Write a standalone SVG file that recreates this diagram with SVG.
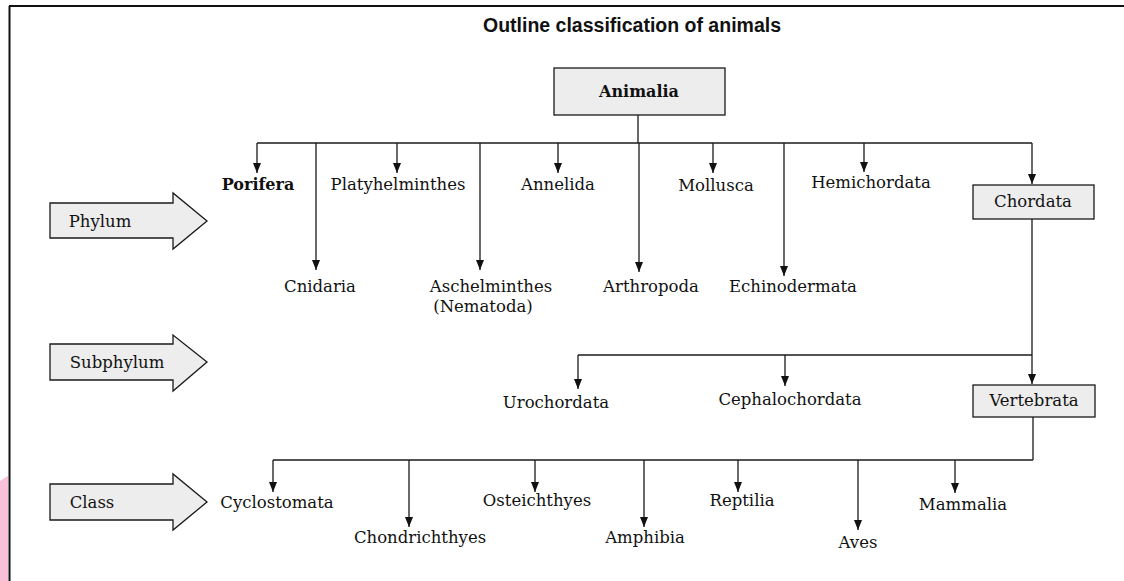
<svg xmlns="http://www.w3.org/2000/svg" width="1124" height="581" viewBox="0 0 1124 581">
<style>
.t{font-family:"DejaVu Serif","Liberation Serif",serif;font-size:16.5px;fill:#111;text-anchor:middle}
.b{font-weight:bold;font-size:16px}
.title{font-family:"Liberation Sans","DejaVu Sans",sans-serif;font-size:19.5px;font-weight:bold;fill:#111;text-anchor:middle}
.c line{stroke:#1a1a1a;stroke-width:1.3;fill:none}
.a{marker-end:url(#ah)}
.box{fill:#ededed;stroke:#1a1a1a;stroke-width:1.3}
</style>
<defs>
<marker id="ah" viewBox="0 0 10 8" refX="10" refY="4" markerWidth="10" markerHeight="8" markerUnits="userSpaceOnUse" orient="auto">
<path d="M0,0 L10,4 L0,8 z" fill="#111"/>
</marker>
</defs>
<rect width="1124" height="581" fill="#fff"/>
<polygon points="0,481 8,476 8,581 0,581" fill="#f9c1d9"/>
<line x1="9" y1="6" x2="1124" y2="6" stroke="#111" stroke-width="2"/>
<line x1="9.5" y1="6" x2="9.5" y2="581" stroke="#111" stroke-width="2"/>
<text class="title" x="632" y="32">Outline classification of animals</text>

<g class="c" id="connectors">
<line x1="638" y1="115" x2="638" y2="143"/>
<line x1="257" y1="143" x2="1032" y2="143"/>
<line class="a" x1="257" y1="143" x2="257" y2="173"/>
<line class="a" x1="316" y1="143" x2="316" y2="270"/>
<line class="a" x1="397" y1="143" x2="397" y2="173"/>
<line class="a" x1="480" y1="143" x2="480" y2="270"/>
<line class="a" x1="558" y1="143" x2="558" y2="173"/>
<line class="a" x1="639" y1="143" x2="639" y2="272"/>
<line class="a" x1="713" y1="143" x2="713" y2="173"/>
<line class="a" x1="784" y1="143" x2="784" y2="276"/>
<line class="a" x1="864" y1="143" x2="864" y2="172"/>
<line class="a" x1="1032" y1="143" x2="1032" y2="184"/>
<line x1="1032" y1="219" x2="1032" y2="355"/>
<line x1="578" y1="355" x2="1032" y2="355"/>
<line class="a" x1="578" y1="355" x2="578" y2="389"/>
<line class="a" x1="785" y1="355" x2="785" y2="386"/>
<line class="a" x1="1032" y1="355" x2="1032" y2="384"/>
<line x1="1033" y1="417" x2="1033" y2="460"/>
<line x1="273" y1="460" x2="1033" y2="460"/>
<line class="a" x1="273" y1="460" x2="273" y2="492"/>
<line class="a" x1="409" y1="460" x2="409" y2="527"/>
<line class="a" x1="535" y1="460" x2="535" y2="492"/>
<line class="a" x1="644" y1="460" x2="644" y2="527"/>
<line class="a" x1="738" y1="460" x2="738" y2="492"/>
<line class="a" x1="858" y1="460" x2="858" y2="530"/>
<line class="a" x1="955" y1="460" x2="955" y2="493"/>
</g>

<g id="rank-phylum">
<path class="box" d="M50,203 H173 V193 L207,221 L173,249 V238 H50 Z"/>
<text class="t" x="100" y="227">Phylum</text>
</g>
<g id="rank-subphylum">
<path class="box" d="M50,344 H173 V335 L207,362 L173,391 V380 H50 Z"/>
<text class="t" x="117" y="368">Subphylum</text>
</g>
<g id="rank-class">
<path class="box" d="M50,484 H173 V474 L207,502 L173,530 V520 H50 Z"/>
<text class="t" x="92" y="508">Class</text>
</g>

<g id="animalia">
<rect class="box" x="554" y="68" width="171" height="47"/>
<text class="t b" x="639" y="97">Animalia</text>
</g>

<g id="porifera"><text class="t b" x="258" y="190">Porifera</text></g>
<g id="cnidaria"><text class="t" x="320" y="292">Cnidaria</text></g>
<g id="platyhelminthes"><text class="t" x="398" y="190">Platyhelminthes</text></g>
<g id="aschelminthes"><text class="t" x="491" y="292">Aschelminthes</text><text class="t" x="483" y="312">(Nematoda)</text></g>
<g id="annelida"><text class="t" x="558" y="190">Annelida</text></g>
<g id="arthropoda"><text class="t" x="651" y="292">Arthropoda</text></g>
<g id="mollusca"><text class="t" x="716" y="191">Mollusca</text></g>
<g id="echinodermata"><text class="t" x="793" y="292">Echinodermata</text></g>
<g id="hemichordata"><text class="t" x="871" y="188">Hemichordata</text></g>
<g id="chordata">
<rect class="box" x="973" y="185" width="121" height="34"/>
<text class="t" x="1033" y="207">Chordata</text>
</g>

<g id="urochordata"><text class="t" x="556" y="408">Urochordata</text></g>
<g id="cephalochordata"><text class="t" x="790" y="405">Cephalochordata</text></g>
<g id="vertebrata">
<rect class="box" x="973" y="385" width="122" height="32"/>
<text class="t" x="1034" y="406">Vertebrata</text>
</g>

<g id="cyclostomata"><text class="t" x="277" y="508">Cyclostomata</text></g>
<g id="chondrichthyes"><text class="t" x="420" y="543">Chondrichthyes</text></g>
<g id="osteichthyes"><text class="t" x="537" y="506">Osteichthyes</text></g>
<g id="amphibia"><text class="t" x="645" y="543">Amphibia</text></g>
<g id="reptilia"><text class="t" x="742" y="506">Reptilia</text></g>
<g id="aves"><text class="t" x="858" y="548">Aves</text></g>
<g id="mammalia"><text class="t" x="963" y="510">Mammalia</text></g>
</svg>
